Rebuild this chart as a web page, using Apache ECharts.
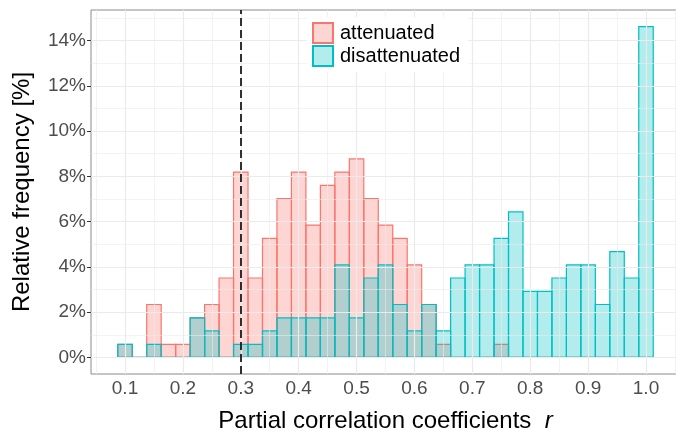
<!DOCTYPE html>
<html><head><meta charset="utf-8">
<script src="https://cdn.jsdelivr.net/npm/echarts@6/dist/echarts.min.js"></script>
<style>html,body{margin:0;padding:0;background:#fff}#c{width:676px;height:434px}</style>
</head><body><div id="c"></div>
<script>
var bins = [0.1,0.125,0.15,0.175,0.2,0.225,0.25,0.275,0.3,0.325,0.35,0.375,0.4,0.425,0.45,0.475,0.5,0.525,0.55,0.575,0.6,0.625,0.65,0.675,0.7,0.725,0.75,0.775,0.8,0.825,0.85,0.875,0.9,0.925,0.95,0.975,1.0];
var attenuated = [0.58,0,2.34,0.58,0.58,1.75,2.34,3.51,8.19,3.51,5.26,7.02,8.19,5.85,7.60,8.19,8.77,7.02,5.85,5.26,4.09,2.34,0.58,0,0,0,0.58,0,0,0,0,0,0,0,0,0,0];
var disattenuated = [0.58,0,0.58,0,0,1.75,1.17,0,0.58,0.58,1.17,1.75,1.75,1.75,1.75,4.09,1.75,3.51,4.09,2.34,1.17,2.34,1.17,3.51,4.09,4.09,5.26,6.43,2.92,2.92,3.51,4.09,4.09,2.34,4.68,3.51,14.62];
var xTicks = [0.1,0.2,0.3,0.4,0.5,0.6,0.7,0.8,0.9,1.0];
var xMinor = [0.05,0.15,0.25,0.35,0.45,0.55,0.65,0.75,0.85,0.95,1.05];
var yTicks = [0,2,4,6,8,10,12,14];
var yMinor = [1,3,5,7,9,11,13,15];
var cutoff = 0.3;
var binWidth = 0.025;

var FONT = '"Liberation Sans", Arial, sans-serif';
var chart = echarts.init(document.getElementById('c'), null, {renderer:'canvas'});

function histSeries(name, vals, stroke, fill) {
  return {
    name: name, type: 'custom', z: 3,
    itemStyle: {color: fill, borderColor: stroke, borderWidth: 1.2},
    data: bins.map(function(b, i){ return [b, vals[i]]; }),
    renderItem: function(params, api) {
      var x = api.value(0), y = api.value(1);
      var p0 = api.coord([x - binWidth/2, y]);
      var p1 = api.coord([x + binWidth/2, 0]);
      return {type:'rect', shape:{x:p0[0], y:p0[1], width:p1[0]-p0[0], height:p1[1]-p0[1]},
        style:{fill: fill, stroke: stroke, lineWidth: 1.2}};
    }
  };
}
function gl(arr, key, w) {
  return arr.map(function(v){ var o = {}; o[key] = v; o.lineStyle = {width: w, color:'#EBEBEB', type:'solid'}; return o; });
}

chart.setOption({
  animation: false,
  textStyle: {fontFamily: FONT},
  grid: {left: 91, top: 10, right: -4, bottom: 60, show: true, borderColor: '#8a8a8a', borderWidth: 1, backgroundColor: '#fff',
    containLabel: false, outerBoundsMode: 'none'},
  legend: {
    orient: 'vertical', left: 307, top: 17, itemWidth: 20, itemHeight: 20, itemGap: 1,
    icon: 'rect', z: 10, backgroundColor: '#fff', padding: [5, 8, 5, 5],
    textStyle: {fontSize: 20, color: '#000', fontFamily: FONT, padding: [0,0,0,2]},
    data: ['attenuated', 'disattenuated']
  },
  xAxis: {
    type: 'value', min: 0.04125, max: 1.05875,
    axisLine: {show: false}, splitLine: {show: false},
    axisTick: {show: true, length: 4, lineStyle: {color: '#333'}, customValues: xTicks},
    axisLabel: {customValues: xTicks, fontSize: 19, color: '#4D4D4D', margin: 5, fontFamily: FONT,
      formatter: function(v){ return v.toFixed(1); }},
    name: 'Partial correlation coefficients  {i|r}', nameLocation: 'middle', nameGap: 35,
    nameTextStyle: {fontSize: 24, color: '#000', fontFamily: FONT, rich: {i: {fontSize: 24, fontStyle: 'italic', fontFamily: FONT}}}
  },
  yAxis: {
    type: 'value', min: -0.731, max: 15.351,
    axisLine: {show: false}, splitLine: {show: false},
    axisTick: {show: true, length: 4, lineStyle: {color: '#333'}, customValues: yTicks},
    axisLabel: {customValues: yTicks, fontSize: 19, color: '#4D4D4D', margin: 5, fontFamily: FONT,
      formatter: function(v){ return v + '%'; }},
    name: 'Relative frequency [%]', nameLocation: 'middle', nameGap: 57, nameRotate: 90,
    nameTextStyle: {fontSize: 24, color: '#000', fontFamily: FONT}
  },
  series: [
    {type: 'line', data: [], z: 1, silent: true, markLine: {silent: true, symbol: ['none','none'], label: {show: false},
      data: gl(yMinor, 'yAxis', 0.6).concat(gl(xMinor, 'xAxis', 0.6)).concat(gl(yTicks, 'yAxis', 1.2)).concat(gl(xTicks, 'xAxis', 1.2))}},
    histSeries('attenuated', attenuated, '#F8766D', 'rgba(248,118,109,0.3)'),
    histSeries('disattenuated', disattenuated, '#00BFC4', 'rgba(0,191,196,0.3)'),
    {type: 'line', data: [], z: 5, silent: true, markLine: {silent: true, symbol: ['none','none'], label: {show: false},
      data: [{xAxis: cutoff, lineStyle: {color: '#000', width: 1.6, type: [8,4]}}]}}
  ]
});
</script></body></html>
